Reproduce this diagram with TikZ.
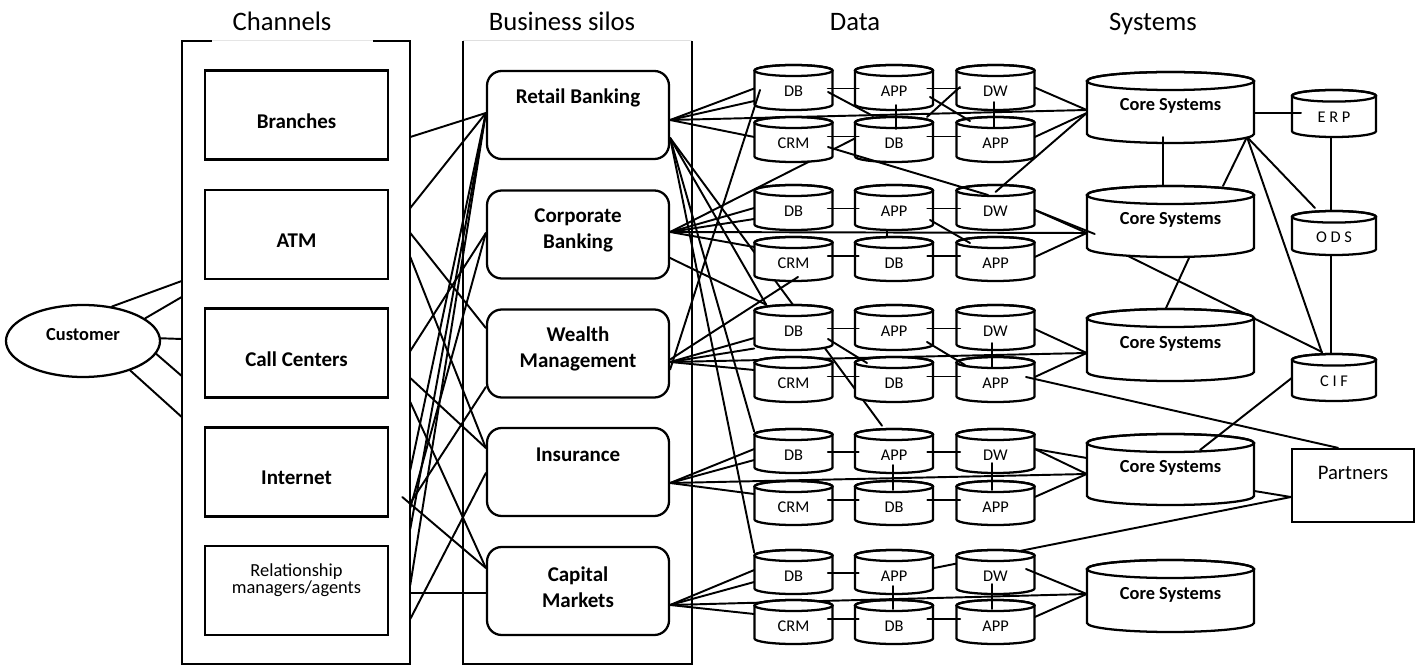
\documentclass[tikz,border=0pt]{standalone}
\usepackage{fontspec}
\setmainfont{Carlito}
\usetikzlibrary{calc,shapes.geometric}
\pgfdeclarelayer{bg}
\pgfsetlayers{bg,main}
\tikzset{
  conn/.style={line width=1.45pt, line cap=round},
  shapeline/.style={line width=1.7pt},
  chbox/.style={draw, shapeline, fill=white, minimum width=183*0.75pt, minimum height=89*0.75pt, inner sep=0pt},
  silobox/.style={draw, shapeline, fill=white, rounded corners=11pt, minimum width=182*0.75pt, minimum height=88*0.75pt, inner sep=0pt},
  boldlbl/.style={font=\fontsize{15.75}{19.5}\selectfont\bfseries, align=center},
  smalllbl/.style={font=\fontsize{12.3}{14}\selectfont, yshift=-3pt},
  corelbl/.style={font=\fontsize{13.8}{16}\selectfont\bfseries, yshift=1pt},
  titlelbl/.style={font=\fontsize{20}{24}\selectfont, anchor=base},
  cylbox/.style={rectangle, draw=none, inner sep=0pt},
  framebox/.style={draw=none, inner sep=0pt},
}
\newcommand\cyl[8]{%
  \filldraw[shapeline, fill=white] (#2-#5,#3+#6) -- (#2-#5,#4-#6)
     arc[start angle=180, end angle=0, x radius=#5, y radius=#6]
     -- (#2+#5,#3+#6)
     arc[start angle=0, end angle=-180, x radius=#5, y radius=#6] -- cycle;
  \draw[shapeline] (#2,#3+#6) ellipse[x radius=#5, y radius=#6];
  \node[cylbox, minimum width={2*#5*0.75pt}, minimum height={(#4-#3)*0.75pt},
        label={[#7]center:#8}] (#1) at (#2,{(#3+#4)/2}) {};
}
\begin{document}
\begin{tikzpicture}[x=0.75pt,y=-0.75pt]
\useasboundingbox (0,0) rectangle (1421,666);
% titles
\node[titlelbl] (tch) at (282,31) {Channels};
\node[titlelbl] (tbs) at (562,31) {Business silos};
\node[titlelbl] (tda) at (855,31) {Data};
\node[titlelbl] (tsy) at (1153,31) {Systems};
% frames
\node[framebox, minimum width=228*0.75pt, minimum height=623*0.75pt] (chan) at (296,352.5) {};
\node[framebox, minimum width=229*0.75pt, minimum height=623*0.75pt] (silo) at (577.5,352.5) {};
\draw[gray!20, line width=0.8pt] ($(chan.north west)+(30,0)$) -- ($(chan.north east)+(-37,0)$);
\draw[shapeline] ($(chan.north west)+(30,0)$) -- (chan.north west) -- (chan.south west) -- (chan.south east) -- (chan.north east) -- ($(chan.north east)+(-37,0)$);
\draw[gray!25, line width=0.8pt] (silo.north west) -- (silo.north east);
\draw[shapeline] (silo.north west) -- (silo.south west) -- (silo.south east) -- (silo.north east);
% customer
\node[draw, shapeline, fill=white, ellipse, minimum width=154*0.75pt, minimum height=72*0.75pt, inner sep=0pt,
  label={[font=\fontsize{13.8}{16}\selectfont\bfseries, yshift=4.5pt]center:Customer}] (cust) at (83,341) {};
% channels
\node[chbox, label={[boldlbl,yshift=-4.5pt]center:Branches}] (branches) at (296.5,115) {};
\node[chbox, label={[boldlbl,yshift=-4.9pt]center:ATM}] (atm) at (296.5,234.5) {};
\node[chbox, label={[boldlbl,yshift=-4.5pt]center:Call Centers}] (callc) at (296.5,353) {};
\node[chbox, label={[boldlbl,yshift=-4.5pt]center:Internet}] (internet) at (296.5,472) {};
\node[chbox, label={[font=\fontsize{13.8}{11.5}\selectfont, align=center, yshift=7.5pt]center:{Relationship\\managers/agents}}] (relman) at (296.5,590.5) {};
% silos
\node[silobox, label={[boldlbl,yshift=12.75pt]center:Retail Banking}] (retail) at (578,115) {};
\node[silobox, label={[boldlbl,yshift=3.4pt]center:{Corporate\\Banking}}] (corporate) at (578,234.5) {};
\node[silobox, label={[boldlbl,yshift=3.4pt]center:{Wealth\\Management}}] (wealth) at (578,353.5) {};
\node[silobox, label={[boldlbl,yshift=12.75pt]center:Insurance}] (insurance) at (578,472) {};
\node[silobox, label={[boldlbl,yshift=2.6pt]center:{Capital\\Markets}}] (capital) at (578,591) {};
% data cylinders
\foreach \r/\ta/\tb/\ba/\bb in {1/65/110/117/162, 2/185/230/237/281, 3/305/350/357/402, 4/429/473/481/525, 5/550/594/600/644}{
  \cyl{dbt\r}{793.5}{\ta}{\tb}{39}{5.5}{smalllbl}{DB}
  \cyl{appt\r}{894}{\ta}{\tb}{39}{5.5}{smalllbl}{APP}
  \cyl{dw\r}{995.5}{\ta}{\tb}{39}{5.5}{smalllbl}{DW}
  \cyl{crm\r}{793.5}{\ba}{\bb}{39}{5.5}{smalllbl}{CRM}
  \cyl{dbb\r}{894}{\ba}{\bb}{39}{5.5}{smalllbl}{DB}
  \cyl{appb\r}{995.5}{\ba}{\bb}{39}{5.5}{smalllbl}{APP}
}
% systems
\cyl{cs1}{1170.5}{72}{143}{83.5}{9}{corelbl}{Core Systems}
\cyl{cs2}{1170.5}{186}{257}{83.5}{9}{corelbl}{Core Systems}
\cyl{cs3}{1170.5}{309}{381}{83.5}{9}{corelbl}{Core Systems}
\cyl{cs4}{1170.5}{434}{505}{83.5}{9}{corelbl}{Core Systems}
\cyl{cs5}{1170.5}{560}{632}{83.5}{9}{corelbl}{Core Systems}
\cyl{erp}{1334}{90}{137}{42}{5.8}{smalllbl}{E R P}
\cyl{ods}{1334}{211}{255}{42}{5.8}{smalllbl}{O D S}
\cyl{cif}{1334}{354}{401}{42}{5.8}{smalllbl}{C I F}
\node[draw, shapeline, fill=white, minimum width=122*0.75pt, minimum height=73*0.75pt, inner sep=0pt,
  label={[font=\fontsize{15.5}{18}\selectfont, yshift=9.4pt]center:Partners}] (partners) at (1353,485.5) {};
% attachment coordinates
\coordinate (rA) at ($(retail.west)+(0,-2)$);
\coordinate (cA) at ($(corporate.west)+(0,-1.5)$);
\coordinate (wA) at ($(wealth.west)+(0,-25.5)$);
\coordinate (wB) at ($(wealth.west)+(0,33.5)$);
\coordinate (iA) at ($(insurance.west)+(0,-24)$);
\coordinate (iB) at ($(insurance.west)+(0,1)$);
\coordinate (kA) at ($(capital.west)+(0,-23)$);
\coordinate (kB) at ($(capital.west)+(0,2)$);
\coordinate (rR) at ($(retail.east)+(0,5)$);
\coordinate (rS) at ($(retail.east)+(0,23)$);
\coordinate (cR) at ($(corporate.east)+(0,-2.5)$);
\coordinate (cS) at ($(corporate.east)+(0,23.5)$);
\coordinate (wR) at ($(wealth.east)+(0,8.5)$);
\coordinate (wS) at ($(wealth.east)+(0,16)$);
\coordinate (wT) at ($(wealth.east)+(0,6)$);
\coordinate (iR) at ($(insurance.east)+(0,11)$);
\coordinate (kR) at ($(capital.east)+(0,14)$);
\coordinate (csA) at ($(cs1.center)+(76.5,29.5)$);
% background connectors
\begin{pgfonlayer}{bg}
\foreach \a/\y in {50/281, 20/297, 2/339, -10/376, -32/417}
  \draw[conn] (cust.\a) -- ($(chan.west)+(0,\y-352.5)$);
\foreach \y/\t in {137/rA, 208/rA, 233/wA, 257/iA, 351/cA, 378/iA, 402/kA, 470/rA, 503/wB, 508/cA, 529/rA, 585/rA, 593/kB, 619/iB}
  \draw[conn] ($(chan.east)+(0,\y-352.5)$) -- (\t);
\draw[conn] ($(chan.east)+(-8,497-352.5)$) -- (kA);
% retail
\draw[conn] (rR) -- ($(dbt1.west)+(0,1)$);
\draw[conn] (rR) -- ($(dbt1.west)+(0,13.5)$);
\draw[conn] (rR) -- ($(crm1.west)+(0,-2.5)$);
\draw[conn] (rR) -- ($(cs1.west)+(0,2.5)$);
\draw[conn] (rS) -- ($(dbt3.north west)+(12,0)$);
\draw[conn] (rS) -- ($(appt4.north)+(-12,-3)$);
\draw[conn] (rS) -- ($(dbt4.north west)+(0,3)$);
\draw[conn] (rS) -- ($(dbt5.north west)+(0,3)$);
% corporate
\draw[conn] (cR) -- ($(dbb1.west)+(3,-2.5)$);
\draw[conn] (cR) -- ($(dbt2.west)+(0,0.5)$);
\draw[conn] (cR) -- ($(dbt2.west)+(0,11.5)$);
\draw[conn] (cR) -- ($(crm2.west)+(0,-12)$);
\draw[conn] (cR) -- ($(cs2.west)+(0,11.5)$);
\draw[conn] (cS) -- ($(dbt3.north west)+(12,0)$);
% wealth
\draw[conn] (wR) -- ($(dbt3.west)+(0,10.5)$);
\draw[conn] (wR) -- ($(dbt3.west)+(0,21)$);
\draw[conn] (wR) -- ($(crm3.west)+(0,-9.5)$);
\draw[conn] (wR) -- ($(cs3.west)+(0,8)$);
% insurance
\draw[conn] (iR) -- ($(dbt4.west)+(0,-2)$);
\draw[conn] (iR) -- ($(dbt4.west)+(0,9)$);
\draw[conn] (iR) -- ($(crm4.west)+(0,-9)$);
\draw[conn] (iR) -- ($(cs4.west)+(0,4.5)$);
% capital
\draw[conn] (kR) -- ($(dbt5.west)+(0,-2)$);
\draw[conn] (kR) -- ($(dbt5.west)+(0,10)$);
\draw[conn] (kR) -- ($(crm5.west)+(0,-8)$);
\draw[conn] (kR) -- ($(cs5.west)+(0,-2)$);
% row 2 tick
\draw[conn] ($(appt2.center)+(-7,0)$) -- ($(dbb2.center)+(-7,0)$);
% data to systems
\draw[conn] (dw1.east) -- ($(cs1.west)+(0,2.5)$);
\draw[conn] ($(appb1.east)+(0,-2.5)$) -- ($(cs1.west)+(0,5.5)$);
\draw[conn] ($(dw2.east)+(0,2.5)$) -- ($(cs2.west)+(0,11.5)$);
\draw[conn] ($(appb2.east)+(0,-2)$) -- ($(cs2.west)+(0,11.5)$);
\draw[conn] ($(dw3.east)+(0,1.5)$) -- ($(cs3.west)+(0,8)$);
\draw[conn] ($(appb3.east)+(0,-2.5)$) -- ($(cs3.west)+(0,8)$);
\draw[conn] ($(dw4.east)+(0,-2)$) -- ($(cs4.west)+(0,-11.5)$);
\draw[conn] ($(dw4.east)+(0,-2)$) -- ($(cs4.west)+(0,4.5)$);
\draw[conn] ($(appb4.east)+(0,-6)$) -- ($(cs4.west)+(0,4.5)$);
\draw[conn] ($(appb5.east)+(0,-5)$) -- ($(cs5.west)+(0,-2)$);
\draw[conn] ($(appt5.east)+(-4,-3)$) -- ($(partners.west)+(0,11.5)$);
\draw[conn] ($(cs4.east)+(0,21.5)$) -- ($(partners.west)+(0,11.5)$);
% systems
\draw[conn] ($(erp.south)+(-3,0)$) -- ($(ods.north)+(-3,0)$);
\draw[conn] ($(ods.south)+(-3,0)$) -- ($(cif.north)+(-3,0)$);
\draw[conn] (csA) -- ($(cs2.center)+(52.5,-35.5)$);
\draw[conn] (csA) -- ($(ods.center)+(-19,-25)$);
\draw[conn] (csA) -- ($(cif.center)+(-12,-24.5)$);
\draw[conn] ($(cs2.center)+(-42.5,34.5)$) -- ($(cif.center)+(-12,-25.5)$);
\draw[conn] ($(cs2.center)+(18.5,36.5)$) -- ($(cs3.center)+(-4.5,-37)$);
\end{pgfonlayer}
% foreground connectors
\foreach \r in {1,2,3,4,5}{
  \draw[conn] ($(dbt\r.east)+(-5,1)$) -- ($(appt\r.west)+(4,1)$);
  \draw[conn] ($(crm\r.east)+(-5,-3)$) -- ($(dbb\r.west)+(4,-3)$);
  \draw[conn] ($(dbb\r.east)+(-6,-3)$) -- ($(appb\r.west)+(4,-3)$);
}
\foreach \r in {1,2,3,4}
  \draw[conn] ($(appt\r.east)+(-6,1)$) -- ($(dw\r.west)+(4,1)$);
\draw[conn] ($(appt1.center)+(2,17.5)$) -- ($(dbb1.center)+(2,-10.5)$);
\draw[conn] ($(dw1.center)+(-1.5,14.5)$) -- ($(appb1.center)+(-1.5,-12.5)$);
\draw[conn] ($(dw3.center)+(-3.5,15.5)$) -- ($(appb3.center)+(-3.5,-12.5)$);
\foreach \r in {4,5}{
  \draw[conn] ($(appt\r.center)+(-1,14)$) -- ($(dbb\r.center)+(-1,-13)$);
  \draw[conn] ($(dw\r.center)+(-3.5,12)$) -- ($(appb\r.center)+(-3.5,-13)$);
}
\draw[conn] ($(dbt1.center)+(34.5,4.5)$) -- ($(dbb1.center)+(-21,-23.5)$);
\draw[conn] ($(appt1.center)+(36,9.5)$) -- ($(appb1.center)+(-25.5,-18.5)$);
\draw[conn] ($(appt2.center)+(36,12.5)$) -- ($(appb2.center)+(-25.5,-16)$);
\draw[conn] ($(dbt3.center)+(34.5,11.5)$) -- ($(dbb3.center)+(-27,-16.5)$);
\draw[conn] ($(appt3.center)+(33,14.5)$) -- ($(appb3.center)+(-30.5,-14.5)$);
\draw[conn] ($(dbb1.center)+(33,-22.5)$) -- ($(dw1.center)+(-35.5,-0.5)$);
\draw[conn] ($(crm1.center)+(34.5,7.5)$) -- ($(dw2.center)+(-7.5,-12.5)$);
\draw[conn] ($(dw2.center)+(0,-15.5)$) -- ($(cs1.west)+(0,5.5)$);
\draw[conn] ($(dw2.east)+(0,2.5)$) -- ($(cs2.west)+(8,12.5)$);
\draw[conn] ($(dw5.center)+(30.5,-3)$) -- ($(cs5.west)+(0,-2)$);
\draw[conn] (wS) -- ($(dbt1.center)+(-33.5,2.5)$);
\draw[conn] (wT) -- ($(crm2.center)+(4.5,18)$);
\draw[conn] ($(cs1.east)+(0,5.5)$) -- ($(erp.center)+(-33,-0.5)$);
\draw[conn] ($(cs1.center)+(-7.5,29.5)$) -- ($(cs2.north)+(-7.5,0)$);
\draw[conn] ($(cif.west)+(0,0.5)$) -- ($(cs4.center)+(29.5,-19.5)$);
\draw[conn] ($(appb3.center)+(30.5,-2.5)$) -- ($(partners.north)+(-15,0)$);
\end{tikzpicture}
\end{document}
